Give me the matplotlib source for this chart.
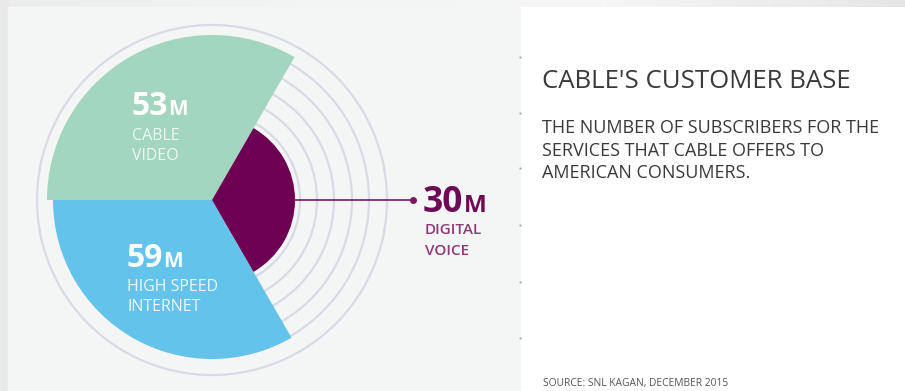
import numpy as np
import matplotlib
matplotlib.use("Agg")
import matplotlib.pyplot as plt
from matplotlib.patches import Rectangle

# ---- data ----
categories = ["CABLE\nVIDEO", "HIGH SPEED\nINTERNET", "DIGITAL\nVOICE"]
values_m = [53, 59, 30]
value_labels = ["53", "59", "30"]
# wedge radius as drawn in the reference (pixels), not proportional to values
display_radius = [165, 159, 83]
sector_center_deg = [120, 240, 0]
colors = ["#a3d6bf", "#63c3ea", "#6d0052"]
ring_radii = [88, 105, 122, 140, 157, 175]

W, H = 905, 391
fig = plt.figure(figsize=(W / 100, H / 100), dpi=100)
fig.patch.set_facecolor("white")

# background axes in pixel coordinates
bg = fig.add_axes([0, 0, 1, 1], zorder=0)
bg.set_xlim(0, W); bg.set_ylim(H, 0); bg.axis("off")
bg.add_patch(Rectangle((0, 0), W, H, color="white"))
grad = np.linspace(0, 1, 256).reshape(1, -1)
bg.imshow(grad, extent=(0, W, 7, 0), cmap=matplotlib.colors.LinearSegmentedColormap.from_list(
    "g", ["#ececec", "#f4f4f4", "#f6f6f6", "#e6e6e6"]), aspect="auto", zorder=1)
bg.add_patch(Rectangle((0, 0), 8, H, color="#e9e9e9", zorder=2))
bg.add_patch(Rectangle((8, 7), 512, H - 7, color="#f4f5f5", zorder=2))
for ty in [57, 113, 168, 225, 282, 338]:
    bg.plot([520], [ty], "s", color="#9a9a9a", ms=1.3, mew=0, zorder=3)

# polar chart
cx, cy, R = 212, 200, 180
pax = fig.add_axes([(cx - R) / W, (H - cy - R) / H, 2 * R / W, 2 * R / H],
                   projection="polar", zorder=1)
pax.set_facecolor("none")
pax.patch.set_alpha(0)
pax.set_theta_zero_location("E")
pax.set_ylim(0, R)
pax.set_axisbelow(True)
pax.bar(np.deg2rad(sector_center_deg), display_radius, width=np.deg2rad(120),
        color=colors, edgecolor="none", linewidth=0, zorder=2)
pax.set_yticks(ring_radii)
pax.set_yticklabels([])
pax.set_xticks([])
pax.xaxis.grid(False)
pax.yaxis.grid(True, color="#d7dbe6", lw=1.6)
pax.spines["polar"].set_visible(False)
pax.tick_params(length=0)

# overlay text axes
ov = fig.add_axes([0, 0, 1, 1], zorder=3)
ov.set_xlim(0, W); ov.set_ylim(H, 0); ov.axis("off"); ov.patch.set_alpha(0)

num_font = "Open Sans"
fig.canvas.draw()
renderer = fig.canvas.get_renderer()

def big_label(x, y, num, num_size, m_size, color):
    t = ov.text(x, y, num, fontsize=num_size, fontfamily=num_font, fontweight="bold",
                color=color, ha="left", va="baseline")
    bb = t.get_window_extent(renderer=renderer)
    x_right = ov.transData.inverted().transform((bb.x1, bb.y0))[0]
    ov.text(x_right + 0.3, y, "M", fontsize=m_size, fontfamily=num_font,
            fontweight="bold", color=color, ha="left", va="baseline")

# CABLE VIDEO
big_label(131, 115, value_labels[0], 23, 15, "white")
l1, l2 = categories[0].split("\n")
ov.text(132, 140, l1, fontsize=11.5, fontfamily=num_font, color="#eef8f3", va="baseline")
ov.text(132, 160, l2, fontsize=11.5, fontfamily=num_font, color="#eef8f3", va="baseline")

# HIGH SPEED INTERNET
big_label(126, 267, value_labels[1], 23, 15, "white")
l1, l2 = categories[1].split("\n")
ov.text(127, 291, l1, fontsize=11.5, fontfamily=num_font, color="#eef8fc", va="baseline")
ov.text(127, 311, l2, fontsize=11.5, fontfamily=num_font, color="#eef8fc", va="baseline")

# DIGITAL VOICE
ov.plot([cx + display_radius[2], 413], [cy, cy], color="#7a1a60", lw=1.2)
ov.plot([413], [cy], "o", color="#7a1a60", ms=4)
big_label(423, 212, value_labels[2], 25.5, 17.5, "#6e0a55")
l1, l2 = categories[2].split("\n")
ov.text(425, 234, l1, fontsize=11, fontfamily=num_font, fontweight="semibold", color="#8c3a78", va="baseline")
ov.text(425, 255, l2, fontsize=11, fontfamily=num_font, fontweight="semibold", color="#8c3a78", va="baseline")

# right panel text
ov.text(542, 88, "CABLE'S CUSTOMER BASE", fontsize=18.5, fontfamily="Open Sans",
        color="#3a3a3a", va="baseline")
sub = ["THE NUMBER OF SUBSCRIBERS FOR THE", "SERVICES THAT CABLE OFFERS TO", "AMERICAN CONSUMERS."]
for i, s in enumerate(sub):
    ov.text(542, 133 + 22.5 * i, s, fontsize=13, fontfamily="Open Sans", color="#3a3a3a", va="baseline")
ov.text(543, 386, "SOURCE: SNL KAGAN, DECEMBER 2015", fontsize=7.4, fontfamily="Open Sans",
        color="#555555", va="baseline")

fig.savefig("out.png", dpi=100)
